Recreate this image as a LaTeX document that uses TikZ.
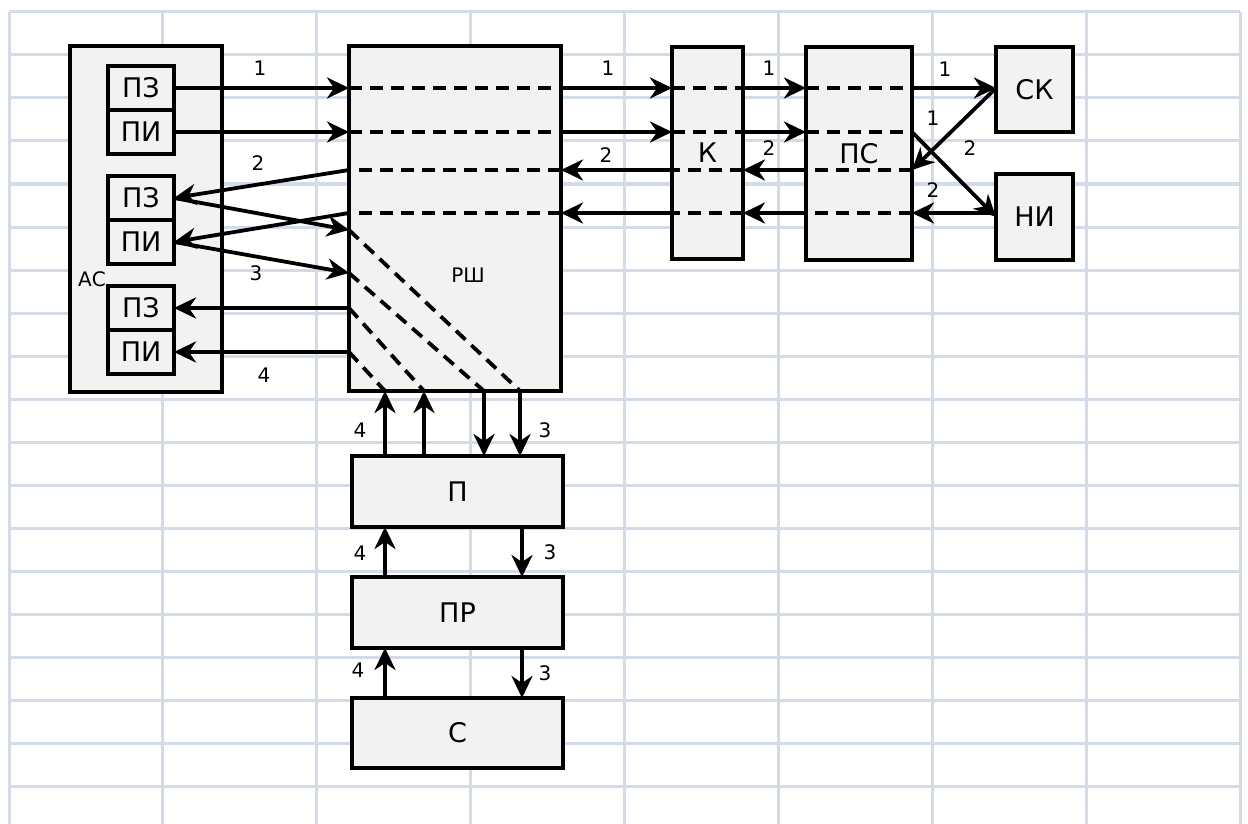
\documentclass[tikz,border=0pt]{standalone}
\usepackage{fontspec}
\setmainfont{DejaVu Sans}
\usetikzlibrary{arrows.meta}
\definecolor{gridc}{RGB}{211,219,232}
\definecolor{boxfill}{RGB}{242,242,242}
\begin{document}
\begin{tikzpicture}[x=1pt,y=-1pt,
  gridline/.style={draw=gridc, line width=3pt},
  box/.style={draw, line width=3.8pt, fill=boxfill, inner sep=0pt, outer sep=0pt, font=\fontsize{27}{31}\selectfont},
  arr/.style={line width=3.8pt, -{Stealth[length=22pt,width=21pt,inset=7pt]}},
  dsh/.style={line width=3.8pt, dash pattern=on 13pt off 8pt},
  lbl/.style={font=\fontsize{20}{24}\selectfont, inner sep=0pt}]
\useasboundingbox (0,0) rectangle (1248,824);
% grid
\foreach \k in {0,...,8} \draw[gridline] ({9+153.875*\k},12) -- ({9+153.875*\k},824);
\foreach \k in {0,...,18} \draw[gridline] (9,{12+43*\k}) -- (1240,{12+43*\k});
% blocks
\node[box, minimum width=152pt, minimum height=346pt] (AS) at (146,219) {};
\node[box, minimum width=66pt, minimum height=44pt] (PZ1) at (141,88) {ПЗ};
\node[box, minimum width=66pt, minimum height=44pt] (PI1) at (141,132) {ПИ};
\node[box, minimum width=66pt, minimum height=44pt] (PZ2) at (141,198) {ПЗ};
\node[box, minimum width=66pt, minimum height=44pt] (PI2) at (141,242) {ПИ};
\node[box, minimum width=66pt, minimum height=44pt] (PZ3) at (141,308) {ПЗ};
\node[box, minimum width=66pt, minimum height=44pt] (PI3) at (141,352) {ПИ};
\node[lbl] (ASl) at (92,279) {АС};
\node[box, minimum width=212pt, minimum height=345pt] (RSh) at (455,218.5) {};
\node[lbl] (RShl) at (468,275) {РШ};
\node[box, minimum width=71pt, minimum height=212pt] (K) at (707.5,153) {К};
\node[box, minimum width=106pt, minimum height=213pt] (PS) at (859,153.5) {ПС};
\node[box, minimum width=77pt, minimum height=85pt] (SK) at (1034.5,89.5) {СК};
\node[box, minimum width=77pt, minimum height=86pt] (NI) at (1034.5,217) {НИ};
\node[box, minimum width=211pt, minimum height=71pt] (P) at (457.5,491.5) {П};
\node[box, minimum width=211pt, minimum height=71pt] (PR) at (457.5,612.5) {ПР};
\node[box, minimum width=211pt, minimum height=70pt] (S) at (457.5,733) {С};
% helper levels
\coordinate (r3) at (0,170);
\coordinate (r4) at (0,213);
\coordinate (ya) at (0,230);
\coordinate (yb) at (0,273);
\coordinate (yc) at (0,308);
\coordinate (yd) at (0,352);
\coordinate (xa) at (385,0);
\coordinate (xb) at (424,0);
\coordinate (xc) at (484,0);
\coordinate (xd) at (520,0);
\coordinate (xe) at (522,0);
% row 1
\draw[arr] (PZ1.east) -- (PZ1.east -| RSh.west);
\draw[dsh] (PZ1.east -| RSh.west) -- (PZ1.east -| RSh.east);
\draw[arr] (PZ1.east -| RSh.east) -- (PZ1.east -| K.west);
\draw[dsh] (PZ1.east -| K.west) -- (PZ1.east -| K.east);
\draw[arr] (PZ1.east -| K.east) -- (PZ1.east -| PS.west);
\draw[dsh] (PZ1.east -| PS.west) -- (PZ1.east -| PS.east);
\draw[arr] (PZ1.east -| PS.east) -- (PZ1.east -| SK.west);
% row 2
\draw[arr] (PI1.east) -- (PI1.east -| RSh.west);
\draw[dsh] (PI1.east -| RSh.west) -- (PI1.east -| RSh.east);
\draw[arr] (PI1.east -| RSh.east) -- (PI1.east -| K.west);
\draw[dsh] (PI1.east -| K.west) -- (PI1.east -| K.east);
\draw[arr] (PI1.east -| K.east) -- (PI1.east -| PS.west);
\draw[dsh] (PI1.east -| PS.west) -- (PI1.east -| PS.east);
\draw[arr] (PI1.east -| PS.east) -- (NI.west);
% row 3
\draw[arr] (PZ1.east -| SK.west) -- (r3 -| PS.east);
\draw[dsh] (r3 -| PS.east) -- (r3 -| PS.west);
\draw[arr] (r3 -| PS.west) -- (r3 -| K.east);
\draw[dsh] (r3 -| K.east) -- (r3 -| K.west);
\draw[arr] (r3 -| K.west) -- (r3 -| RSh.east);
\draw[dsh] (r3 -| RSh.east) -- (r3 -| RSh.west);
\draw[arr] (r3 -| RSh.west) -- (PZ2.east);
% row 4
\draw[arr] (r4 -| NI.west) -- (r4 -| PS.east);
\draw[dsh] (r4 -| PS.east) -- (r4 -| PS.west);
\draw[arr] (r4 -| PS.west) -- (r4 -| K.east);
\draw[dsh] (r4 -| K.east) -- (r4 -| K.west);
\draw[arr] (r4 -| K.west) -- (r4 -| RSh.east);
\draw[dsh] (r4 -| RSh.east) -- (r4 -| RSh.west);
\draw[arr] (r4 -| RSh.west) -- (PI2.east);
% diagonals in RSh
\draw[arr] (PZ2.east) -- (RSh.west |- ya);
\draw[arr] (PI2.east) -- (RSh.west |- yb);
\draw[dsh] (RSh.west |- ya) -- (RSh.south -| xd);
\draw[dsh] (RSh.west |- yb) -- (RSh.south -| xc);
\draw[dsh] (RSh.west |- yc) -- (RSh.south -| xb);
\draw[dsh] (RSh.west |- yd) -- (RSh.south -| xa);
\draw[arr] (RSh.west |- yc) -- (PZ3.east);
\draw[arr] (RSh.west |- yd) -- (PI3.east);
% vertical links
\draw[arr] (P.north -| xa) -- (RSh.south -| xa);
\draw[arr] (P.north -| xb) -- (RSh.south -| xb);
\draw[arr] (RSh.south -| xc) -- (P.north -| xc);
\draw[arr] (RSh.south -| xd) -- (P.north -| xd);
\draw[arr] (PR.north -| xa) -- (P.south -| xa);
\draw[arr] (P.south -| xe) -- (PR.north -| xe);
\draw[arr] (S.north -| xa) -- (PR.south -| xa);
\draw[arr] (PR.south -| xe) -- (S.north -| xe);
% labels
\node[lbl] (l1) at (260,68) {1};
\node[lbl] (l2) at (258,163) {2};
\node[lbl] (l3) at (256,273) {3};
\node[lbl] (l4) at (264,375) {4};
\node[lbl] (l5) at (608,68) {1};
\node[lbl] (l6) at (769,68) {1};
\node[lbl] (l7) at (606,155) {2};
\node[lbl] (l8) at (769,148) {2};
\node[lbl] (l9) at (945,69) {1};
\node[lbl] (l10) at (933,118) {1};
\node[lbl] (l11) at (970,148) {2};
\node[lbl] (l12) at (933,190) {2};
\node[lbl] (l13) at (360,430) {4};
\node[lbl] (l14) at (545,430) {3};
\node[lbl] (l15) at (360,553) {4};
\node[lbl] (l16) at (550,552) {3};
\node[lbl] (l17) at (358,670) {4};
\node[lbl] (l18) at (545,673) {3};
\end{tikzpicture}
\end{document}
